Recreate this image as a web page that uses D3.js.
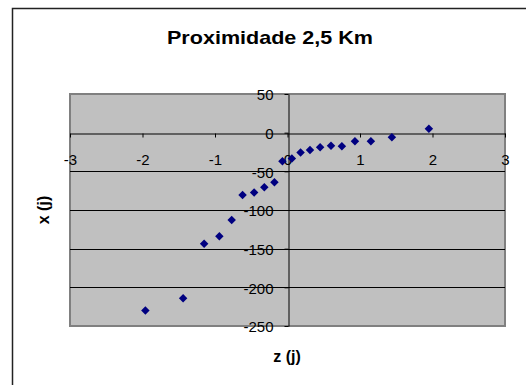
<!DOCTYPE html>
<html><head><meta charset="utf-8">
<script src="https://cdn.jsdelivr.net/npm/d3@7"></script>
<style>body{margin:0;background:#fff;}svg{display:block;font-family:"Liberation Sans",Arial,sans-serif;}</style>
</head><body>
<svg id="c" width="526" height="385"></svg>
<script>
const zValues = [-1.96,-1.44,-1.15,-0.94,-0.77,-0.62,-0.46,-0.32,-0.18,-0.07,0.06,0.18,0.31,0.45,0.60,0.75,0.93,1.15,1.44,1.95];
const xValues = [-230,-214,-143.5,-134,-113,-80.5,-77.5,-70.5,-64,-37,-33.5,-25.5,-22.5,-19,-17,-17.5,-11,-11,-6,5];
const xTicks = [-3,-2,-1,0,1,2,3];
const yTicks = [50,0,-50,-100,-150,-200,-250];
const title = "Proximidade 2,5 Km";
const xTitle = "z (j)";
const yTitle = "x (j)";

const svg = d3.select("#c");
const L = 70, R = 505, T = 94, B = 326;
const x = d3.scaleLinear().domain([-3,3]).range([L,R]);
const y = d3.scaleLinear().domain([-250,50]).range([B,T]);

// chart border (only top & left visible)
svg.append("path").attr("d","M12.5,385 L12.5,8.5 L526,8.5").attr("fill","none").attr("stroke","#222").attr("stroke-width",1.5);

// plot area
svg.append("rect").attr("x",L).attr("y",T).attr("width",R-L).attr("height",B-T)
  .attr("fill","#C0C0C0").attr("stroke","#808080").attr("stroke-width",2);

// gridlines
svg.append("g").selectAll("line").data(yTicks.filter(d=>d!==50 && d!==-250 && d!==0)).join("line")
  .attr("x1",L).attr("x2",R).attr("y1",d=>Math.round(y(d))+0.5).attr("y2",d=>Math.round(y(d))+0.5)
  .attr("stroke","#000").attr("stroke-width",1);

const fmt = d=>d<0?"-"+Math.abs(d):String(d);

// x axis at y=0
const xAxis = d3.axisBottom(x).tickValues(xTicks).tickSize(4).tickSizeOuter(0).tickFormat(fmt);
const gx = svg.append("g").attr("transform",`translate(0,${Math.round(y(0))+0.5})`).call(xAxis);
gx.select(".domain").attr("stroke","#000");
gx.selectAll(".tick line").attr("stroke","#000");
gx.selectAll(".tick text").attr("font-size",15).attr("fill","#000").attr("dy",0).attr("y",31.5);

// y axis at x=0
const yAxis = d3.axisLeft(y).tickValues(yTicks).tickSize(4).tickSizeOuter(0).tickFormat(fmt);
const gy = svg.append("g").attr("transform",`translate(${Math.round(x(0))+0.5},0)`).call(yAxis);
gy.select(".domain").attr("stroke","#000");
gy.selectAll(".tick line").attr("stroke","#000");
gy.selectAll(".tick text").attr("font-size",15).attr("fill","#000").attr("x",-15).attr("dy","0.38em");

// points
const data = zValues.map((z,i)=>({z, v:xValues[i]}));
svg.append("g").selectAll("path").data(data).join("path")
  .attr("d", d3.symbol().type(d3.symbolDiamond2).size(46))
  .attr("transform",d=>`translate(${x(d.z)},${y(d.v)})`)
  .attr("fill","#000080");

// titles
svg.append("text").attr("x",270).attr("y",43.5).attr("text-anchor","middle")
  .attr("font-size",19).attr("font-weight","bold")
  .attr("textLength",206).attr("lengthAdjust","spacingAndGlyphs").text(title);
svg.append("text").attr("x",287).attr("y",362).attr("text-anchor","middle")
  .attr("font-size",16).attr("font-weight","bold").text(xTitle);
svg.append("text").attr("transform",`translate(49,${(T+B)/2}) rotate(-90)`).attr("text-anchor","middle")
  .attr("font-size",16).attr("font-weight","bold").text(yTitle);
</script>
</body></html>
